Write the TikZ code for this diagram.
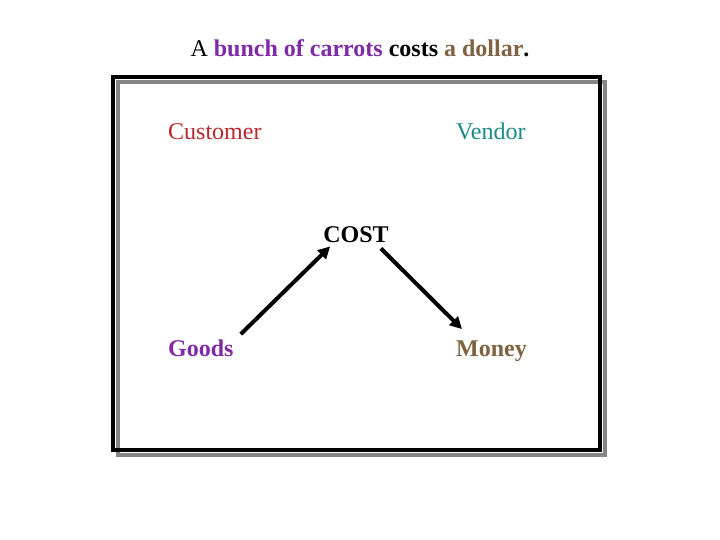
\documentclass[tikz,border=0pt]{standalone}
\usepackage{fontspec}
\setmainfont{Liberation Serif}
\usepackage{tikz}
\usetikzlibrary{arrows.meta,positioning}
\definecolor{carrotpurple}{HTML}{7F2AA6}
\definecolor{dollarbrown}{HTML}{7F6241}
\definecolor{customerred}{HTML}{B8282C}
\definecolor{vendorteal}{HTML}{1A8A88}
\definecolor{shadowgray}{HTML}{858585}

\begin{document}
\begin{tikzpicture}[
    x=1pt, y=-1pt,
    >={Triangle[length=12pt,width=12pt]},
    every node/.style={font=\fontsize{24}{28}\selectfont},
    party/.style={anchor=base west, inner sep=0pt},
    thing/.style={anchor=base west, inner sep=0pt, font=\fontsize{24}{28}\selectfont\bfseries},
    flow/.style={->, line width=4pt}
]
    \useasboundingbox (0,0) rectangle (720,540);

    % === TITLE ===
    \node (title) at (360,48) {A \textbf{\color{carrotpurple}bunch of carrots} \textbf{costs} \textbf{\color{dollarbrown}a dollar}\textbf{.}};

    % === FRAME ===
    \draw[shadowgray, line width=4pt] (118,82) rectangle (605,455);
    \draw[black, line width=4pt] (113,77) rectangle (600,450);

    % Parties
    \node[party, customerred] (customer) at (168,140) {Customer};
    \node[party, vendorteal] (vendor) at (456,140) {Vendor};

    % Cost and what is exchanged
    \node[thing, anchor=base] (cost) at (356,242) {COST};
    \node[thing, carrotpurple] (goods) at (168,356) {Goods};
    \node[thing, dollarbrown] (money) at (456,356) {Money};

    % Arrows
    \draw[flow] ([xshift=7pt,yshift=5pt]goods.north east) -- ([xshift=7pt,yshift=-4pt]cost.south west);
    \draw[flow] ([xshift=-8pt,yshift=-6pt]cost.south east) -- ([xshift=6pt,yshift=11pt]money.north west);
\end{tikzpicture}
\end{document}
